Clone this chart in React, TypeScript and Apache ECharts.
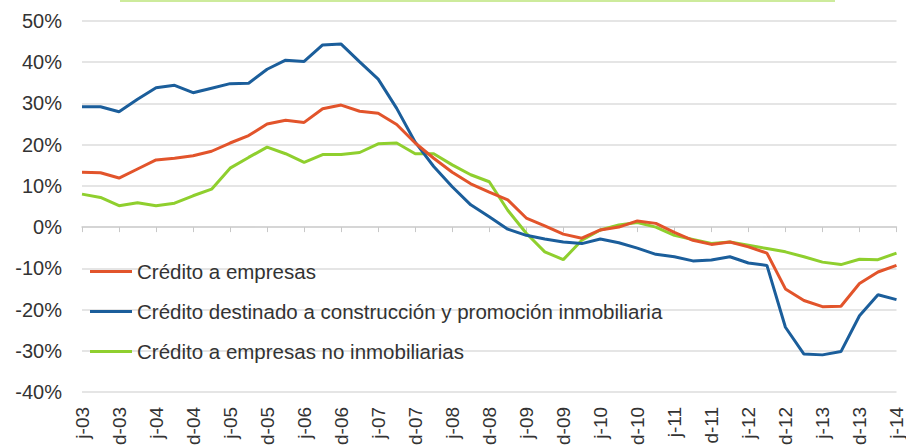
import React, { useEffect, useRef } from "react";
import * as echarts from "echarts";

const categories = [
  "j-03", "s-03", "d-03", "m-04", "j-04", "s-04", "d-04", "m-05", "j-05", "s-05", "d-05",
  "m-06", "j-06", "s-06", "d-06", "m-07", "j-07", "s-07", "d-07", "m-08", "j-08", "s-08", "d-08",
  "m-09", "j-09", "s-09", "d-09", "m-10", "j-10", "s-10", "d-10", "m-11", "j-11", "s-11", "d-11",
  "m-12", "j-12", "s-12", "d-12", "m-13", "j-13", "s-13", "d-13", "m-14", "j-14",
];

const creditoEmpresas = [
  13.3, 13.2, 11.9, 14.1, 16.3, 16.7, 17.3, 18.4, 20.4, 22.2,
  25.0, 25.9, 25.4, 28.7, 29.6, 28.1, 27.6, 24.9, 20.4, 16.7,
  13.3, 10.5, 8.5, 6.6, 2.2, 0.3, -1.7, -2.7, -0.7, 0.0,
  1.5, 0.9, -1.3, -3.2, -4.2, -3.6, -4.8, -6.3, -15.0, -17.8,
  -19.3, -19.2, -13.7, -10.9, -9.3,
];

const creditoConstruccion = [
  29.2, 29.2, 28.0, 31.0, 33.8, 34.4, 32.6, 33.7, 34.8, 34.9,
  38.3, 40.5, 40.2, 44.2, 44.4, 40.1, 35.9, 28.8, 20.6, 14.7,
  9.8, 5.4, 2.5, -0.5, -2.0, -2.9, -3.6, -4.0, -2.9, -3.8,
  -5.1, -6.6, -7.2, -8.2, -8.0, -7.2, -8.7, -9.3, -24.3, -30.8,
  -31.0, -30.2, -21.5, -16.4, -17.6,
];

const creditoNoInmobiliarias = [
  8.0, 7.2, 5.2, 5.9, 5.2, 5.8, 7.6, 9.2, 14.3, 16.9,
  19.4, 17.8, 15.7, 17.6, 17.6, 18.1, 20.2, 20.4, 17.8, 17.8,
  15.1, 12.7, 11.0, 4.1, -1.5, -6.0, -7.9, -3.2, -0.7, 0.5,
  1.1, 0.0, -2.0, -3.0, -4.0, -3.6, -4.4, -5.2, -6.0, -7.2,
  -8.5, -9.1, -7.8, -7.9, -6.3,
];

const seriesNames = [
  "Crédito a empresas",
  "Crédito destinado a construcción y promoción inmobiliaria",
  "Crédito a empresas no inmobiliarias",
];
const seriesColors = ["#E2542B", "#1B5E9B", "#8FCF2E"];

const FONT = "'Liberation Sans', Arial, sans-serif";

export default function App() {
  const ref = useRef<HTMLDivElement>(null);

  useEffect(() => {
    if (!ref.current) return;
    const chart = echarts.init(ref.current, undefined, { renderer: "svg" });
    const seriesData = [creditoEmpresas, creditoConstruccion, creditoNoInmobiliarias];
    chart.setOption({
      animation: false,
      backgroundColor: "#ffffff",
      textStyle: { fontFamily: FONT },
      grid: { left: 82, right: 9, top: 21, bottom: 56, containLabel: false },
      legend: {
        orient: "vertical",
        left: 90,
        top: 261,
        padding: 0,
        itemGap: 19,
        itemWidth: 42,
        itemHeight: 3,
        icon: "rect",
        data: seriesNames,
        textStyle: { fontSize: 20.5, color: "#333333", fontFamily: FONT, lineHeight: 21 },
      },
      graphic: [
        {
          type: "line",
          shape: { x1: 120, y1: 1, x2: 835, y2: 1 },
          style: { stroke: "#cdeb9c", lineWidth: 2 },
          silent: true,
        },
      ],
      xAxis: [
        {
          type: "category",
          data: categories,
          boundaryGap: false,
          position: "bottom",
          axisLine: { onZero: true, lineStyle: { color: "#d0d0d0", width: 1.5 } },
          axisTick: { show: true, interval: 1, length: 5, lineStyle: { color: "#c8c8c8" } },
          axisLabel: { show: false },
          splitLine: { show: false },
        },
        {
          type: "category",
          data: categories,
          boundaryGap: false,
          position: "bottom",
          axisLine: { show: false, onZero: false },
          axisTick: { show: false },
          axisLabel: {
            show: true,
            interval: 1,
            rotate: 90,
            margin: 15,
            fontSize: 19,
            color: "#333333",
            fontFamily: FONT,
          },
          splitLine: { show: false },
        },
      ],
      yAxis: {
        type: "value",
        min: -40,
        max: 50,
        interval: 10,
        axisLine: { show: false },
        axisTick: { show: false },
        axisLabel: {
          formatter: "{value}%",
          fontSize: 20,
          margin: 20,
          color: "#333333",
          fontFamily: FONT,
        },
        splitLine: { show: true, lineStyle: { color: "#dcdcdc", width: 1.5 } },
      },
      series: seriesNames.map((name, i) => ({
        name,
        type: "line",
        xAxisIndex: 0,
        data: seriesData[i],
        showSymbol: false,
        symbol: "none",
        smooth: false,
        z: i === 1 ? 3 : i === 0 ? 4 : 2,
        lineStyle: { color: seriesColors[i], width: 3 },
        itemStyle: { color: seriesColors[i] },
      })),
    });
    return () => chart.dispose();
  }, []);

  return (
    <div
      ref={ref}
      style={{ position: "fixed", left: 0, top: 0, width: 906, height: 448, background: "#fff" }}
    />
  );
}
